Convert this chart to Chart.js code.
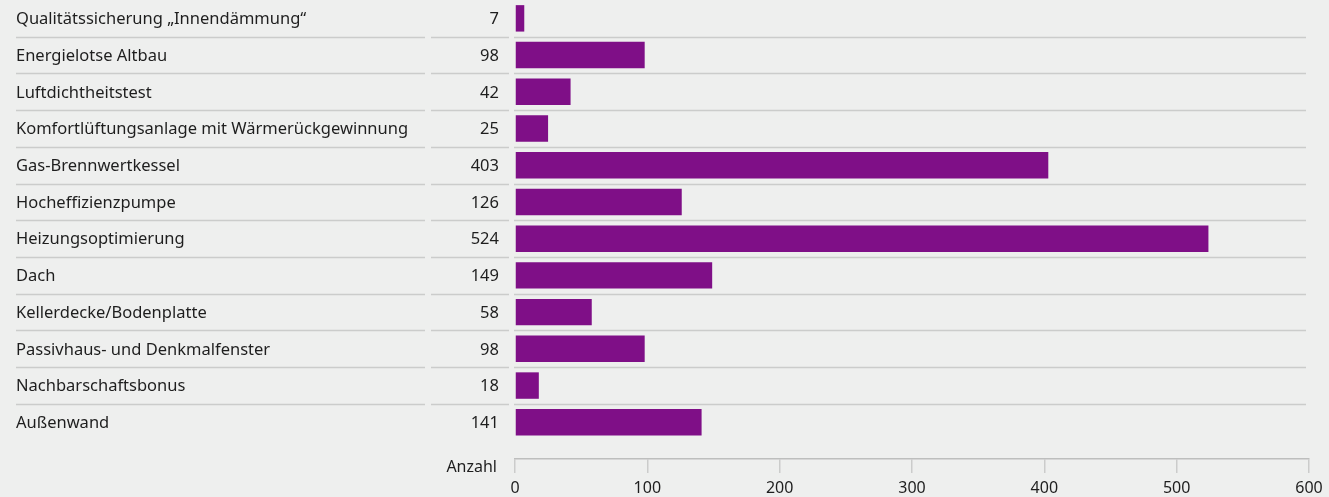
<!DOCTYPE html>
<html>
<head>
<meta charset="utf-8">
<script src="https://cdn.jsdelivr.net/npm/chart.js@4"></script>
<style>
  html, body { margin: 0; padding: 0; background: #eeefee; }
  #wrap { width: 1329px; height: 497px; }
</style>
</head>
<body>
<div id="wrap"><canvas id="myChart"></canvas></div>
<script>
const categories = [
  "Qualitätssicherung „Innendämmung“",
  "Energielotse Altbau",
  "Luftdichtheitstest",
  "Komfortlüftungsanlage mit Wärmerückgewinnung",
  "Gas-Brennwertkessel",
  "Hocheffizienzpumpe",
  "Heizungsoptimierung",
  "Dach",
  "Kellerdecke/Bodenplatte",
  "Passivhaus- und Denkmalfenster",
  "Nachbarschaftsbonus",
  "Außenwand",
];
const counts = [7, 98, 42, 25, 403, 126, 524, 149, 58, 98, 18, 141];
const xTicks = [0, 100, 200, 300, 400, 500, 600];
const axisTitle = "Anzahl";

const FONT = "Noto Sans";
const TEXT = "#1e1e1e";
const LINE = "#cbcccb";

// labels column, value column and row separators
const tablePlugin = {
  id: "table",
  beforeDatasetsDraw(chart) {
    const { ctx, scales } = chart;
    const y = scales.y;
    const x = scales.x;
    ctx.save();
    ctx.strokeStyle = LINE;
    ctx.lineWidth = 1.5;
    for (let i = 0; i < categories.length - 1; i++) {
      const py = Math.round(y.getPixelForValue(i + 0.5)) + 0.5;
      [[16, 425], [431, 509], [514, 1306]].forEach(([a, b]) => {
        ctx.beginPath();
        ctx.moveTo(a, py);
        ctx.lineTo(b, py);
        ctx.stroke();
      });
    }
    ctx.fillStyle = TEXT;
    ctx.font = "16.5px '" + FONT + "'";
    ctx.textBaseline = "middle";
    categories.forEach((c, i) => {
      const py = y.getPixelForValue(i) + 1;
      ctx.textAlign = "left";
      ctx.fillText(c, 16, py);
      ctx.textAlign = "right";
      ctx.fillText(String(counts[i]), 499, py);
    });
    ctx.font = "16px '" + FONT + "'";
    ctx.textAlign = "right";
    ctx.fillText(axisTitle, 497, x.top + 8);
    ctx.restore();
  },
};

new Chart(document.getElementById("myChart"), {
  type: "bar",
  data: {
    datasets: [
      {
        data: counts.map((v, i) => ({ x: v, y: i })),
        backgroundColor: "#7f0f87",
        borderWidth: 0,
        barPercentage: 0.72,
        categoryPercentage: 1,
      },
    ],
  },
  options: {
    indexAxis: "y",
    responsive: true,
    maintainAspectRatio: false,
    animation: false,
    layout: { padding: { left: 515, right: 20, top: 0, bottom: 0 } },
    plugins: {
      legend: { display: false },
      tooltip: { enabled: false },
    },
    scales: {
      y: {
        type: "linear",
        display: false,
        offset: false,
        reverse: true,
        min: -0.5,
        max: 12,
        afterBuildTicks: (s) => { s.ticks = categories.map((_, i) => ({ value: i })); },
      },
      x: {
        type: "linear",
        position: "bottom",
        min: 0,
        max: 600,
        afterBuildTicks: (s) => { s.ticks = xTicks.map((v) => ({ value: v })); },
        afterFit: (s) => { s.height = 38; },
        border: { color: "#bdbebd", width: 1.5 },
        grid: {
          drawOnChartArea: false,
          color: LINE,
          lineWidth: 1.5,
          tickLength: 14,
        },
        ticks: {
          color: TEXT,
          padding: 6,
          maxRotation: 0,
          font: { family: FONT, size: 16 },
        },
      },
    },
  },
  plugins: [tablePlugin],
});
</script>
</body>
</html>
